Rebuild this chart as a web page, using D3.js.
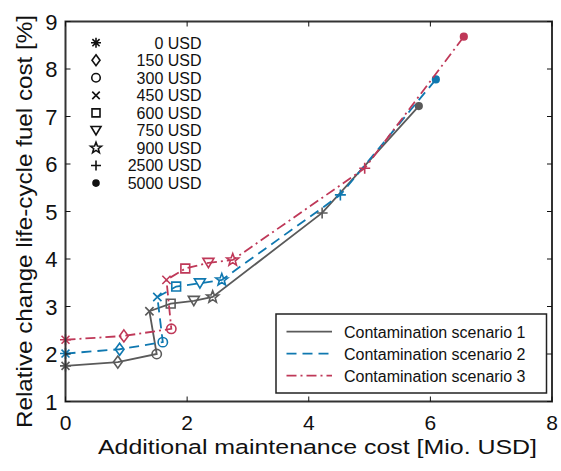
<!DOCTYPE html>
<html>
<head>
<meta charset="utf-8">
<script src="https://cdn.jsdelivr.net/npm/d3@7"></script>
<style>
  body { margin: 0; background: #fff; }
  text { font-family: "Liberation Sans", Arial, sans-serif; fill: #111; }
</style>
</head>
<body>
<div id="chart"></div>
<script>
// data
var costLabels = ["0 USD", "150 USD", "300 USD", "450 USD", "600 USD", "750 USD", "900 USD", "2500 USD", "5000 USD"];
var markerTypes = ["asterisk", "diamond", "circle", "cross", "square", "triangleDown", "pentagram", "plus", "dot"];

var scenarioNames = ["Contamination scenario 1", "Contamination scenario 2", "Contamination scenario 3"];
var scenarioColors = ["#5a5a5a", "#0f78b0", "#bf3858"];

var s1X = [0, 0.86, 1.50, 1.38, 1.73, 2.11, 2.42, 4.22, 5.81];
var s1Y = [1.75, 1.83, 2.00, 2.90, 3.06, 3.12, 3.20, 4.97, 7.22];
var s2X = [0, 0.89, 1.60, 1.51, 1.82, 2.21, 2.57, 4.52, 6.09];
var s2Y = [2.01, 2.10, 2.25, 3.20, 3.42, 3.49, 3.56, 5.35, 7.78];
var s3X = [0, 0.96, 1.74, 1.66, 1.97, 2.35, 2.75, 4.92, 6.55];
var s3Y = [2.30, 2.38, 2.53, 3.56, 3.80, 3.92, 3.98, 5.91, 8.68];

var xTicks = [0, 2, 4, 6, 8];
var yTicks = [1, 2, 3, 4, 5, 6, 7, 8, 9];

var svgWidth = 561;
var svgHeight = 471;

var plot = { left: 65.5, right: 552, top: 21.5, bottom: 401.5 };

var svg = d3.select("#chart")
  .append("svg")
  .attr("width", svgWidth)
  .attr("height", svgHeight);

var xScale = d3.scaleLinear().domain([0, 8]).range([plot.left, plot.right]);
var yScale = d3.scaleLinear().domain([1, 9]).range([plot.bottom, plot.top]);

// marker path generator, r = half size
function markerPath(type, r) {
  var p = d3.path();
  if (type === "asterisk") {
    var d = r * 0.72;
    p.moveTo(-r, 0); p.lineTo(r, 0);
    p.moveTo(0, -r); p.lineTo(0, r);
    p.moveTo(-d, -d); p.lineTo(d, d);
    p.moveTo(-d, d); p.lineTo(d, -d);
  } else if (type === "diamond") {
    p.moveTo(0, -r * 1.1); p.lineTo(r * 0.8, 0); p.lineTo(0, r * 1.1); p.lineTo(-r * 0.8, 0); p.closePath();
  } else if (type === "circle") {
    p.arc(0, 0, r * 0.85, 0, 2 * Math.PI);
  } else if (type === "cross") {
    var c = r * 0.75;
    p.moveTo(-c, -c); p.lineTo(c, c);
    p.moveTo(-c, c); p.lineTo(c, -c);
  } else if (type === "square") {
    var q = r * 0.8;
    p.rect(-q, -q, 2 * q, 2 * q);
  } else if (type === "triangleDown") {
    p.moveTo(-r, -r * 0.8); p.lineTo(r, -r * 0.8); p.lineTo(0, r * 0.9); p.closePath();
  } else if (type === "pentagram") {
    var ro = r * 1.15, ri = ro * 0.42;
    for (var i = 0; i < 10; i++) {
      var a = -Math.PI / 2 + i * Math.PI / 5;
      var rr = i % 2 === 0 ? ro : ri;
      if (i === 0) p.moveTo(rr * Math.cos(a), rr * Math.sin(a));
      else p.lineTo(rr * Math.cos(a), rr * Math.sin(a));
    }
    p.closePath();
  } else if (type === "plus") {
    p.moveTo(-r, 0); p.lineTo(r, 0);
    p.moveTo(0, -r); p.lineTo(0, r);
  } else if (type === "dot") {
    p.arc(0, 0, r * 0.6, 0, 2 * Math.PI);
  }
  return p.toString();
}

var dashes = [null, "10,6", "10,4,2,4"];

var series = [
  { x: s1X, y: s1Y },
  { x: s2X, y: s2Y },
  { x: s3X, y: s3Y }
];

var line = d3.line()
  .x(d => xScale(d[0]))
  .y(d => yScale(d[1]));

// lines and markers
series.forEach(function(s, si) {
  var pts = s.x.map((v, i) => [v, s.y[i]]);
  svg.append("path")
    .datum(pts)
    .attr("d", line)
    .attr("fill", "none")
    .attr("stroke", scenarioColors[si])
    .attr("stroke-width", 1.8)
    .attr("stroke-dasharray", dashes[si]);

  svg.selectAll(".m" + si)
    .data(pts)
    .enter()
    .append("path")
    .attr("class", "m" + si)
    .attr("transform", d => `translate(${xScale(d[0])},${yScale(d[1])})`)
    .attr("d", (d, i) => markerPath(markerTypes[i], 5.5))
    .attr("fill", (d, i) => markerTypes[i] === "dot" ? scenarioColors[si] : "none")
    .attr("stroke", scenarioColors[si])
    .attr("stroke-width", 1.6);
});

// frame
svg.append("rect")
  .attr("x", plot.left)
  .attr("y", plot.top)
  .attr("width", plot.right - plot.left)
  .attr("height", plot.bottom - plot.top)
  .attr("fill", "none")
  .attr("stroke", "#333")
  .attr("stroke-width", 2);

// ticks on all four sides
var tickLen = 5;
xTicks.forEach(function(t) {
  svg.append("line").attr("x1", xScale(t)).attr("x2", xScale(t))
    .attr("y1", plot.bottom).attr("y2", plot.bottom - tickLen)
    .attr("stroke", "#111").attr("stroke-width", 1);
  svg.append("line").attr("x1", xScale(t)).attr("x2", xScale(t))
    .attr("y1", plot.top).attr("y2", plot.top + tickLen)
    .attr("stroke", "#111").attr("stroke-width", 1);
});
yTicks.forEach(function(t) {
  svg.append("line").attr("x1", plot.left).attr("x2", plot.left + tickLen)
    .attr("y1", yScale(t)).attr("y2", yScale(t))
    .attr("stroke", "#111").attr("stroke-width", 1);
  svg.append("line").attr("x1", plot.right).attr("x2", plot.right - tickLen)
    .attr("y1", yScale(t)).attr("y2", yScale(t))
    .attr("stroke", "#111").attr("stroke-width", 1);
});

// tick labels
svg.selectAll(".xlab")
  .data(xTicks)
  .enter()
  .append("text")
  .attr("class", "xlab")
  .attr("x", d => xScale(d))
  .attr("y", 429.5)
  .attr("text-anchor", "middle")
  .style("font-size", "21px")
  .text(d => d);

svg.selectAll(".ylab")
  .data(yTicks)
  .enter()
  .append("text")
  .attr("class", "ylab")
  .attr("x", 57.5)
  .attr("y", d => yScale(d) + 8)
  .attr("text-anchor", "end")
  .style("font-size", "22px")
  .text(d => d);

// axis titles
svg.append("text")
  .attr("x", 98)
  .attr("y", 453.5)
  .attr("textLength", 439)
  .attr("lengthAdjust", "spacingAndGlyphs")
  .style("font-size", "20.5px")
  .text("Additional maintenance cost [Mio. USD]");

svg.append("text")
  .attr("transform", "translate(31.5, 428) rotate(-90)")
  .attr("textLength", 413)
  .attr("lengthAdjust", "spacingAndGlyphs")
  .style("font-size", "22px")
  .text("Relative change life-cycle fuel cost [%]");

// marker legend (no box)
costLabels.forEach(function(lab, i) {
  var cy = 42.7 + i * 17.55;
  svg.append("path")
    .attr("transform", `translate(96,${cy})`)
    .attr("d", markerPath(markerTypes[i], 5))
    .attr("fill", markerTypes[i] === "dot" ? "#111" : "none")
    .attr("stroke", "#111")
    .attr("stroke-width", 1.6);
  svg.append("text")
    .attr("x", 201.5)
    .attr("y", cy + 5.8)
    .attr("text-anchor", "end")
    .style("font-size", "16px")
    .text(lab);
});

// scenario legend
var legend = svg.append("g");
legend.append("rect")
  .attr("x", 276)
  .attr("y", 314)
  .attr("width", 270.5)
  .attr("height", 79)
  .attr("fill", "#fff")
  .attr("stroke", "#222")
  .attr("stroke-width", 1.5);

scenarioNames.forEach(function(name, i) {
  var ly = 331.7 + i * 22;
  legend.append("line")
    .attr("x1", 286.5).attr("x2", 332)
    .attr("y1", ly).attr("y2", ly)
    .attr("stroke", scenarioColors[i])
    .attr("stroke-width", 1.8)
    .attr("stroke-dasharray", dashes[i]);
  legend.append("text")
    .attr("x", 344)
    .attr("y", ly + 5.8)
    .style("font-size", "16px")
    .text(name);
});
</script>
</body>
</html>
